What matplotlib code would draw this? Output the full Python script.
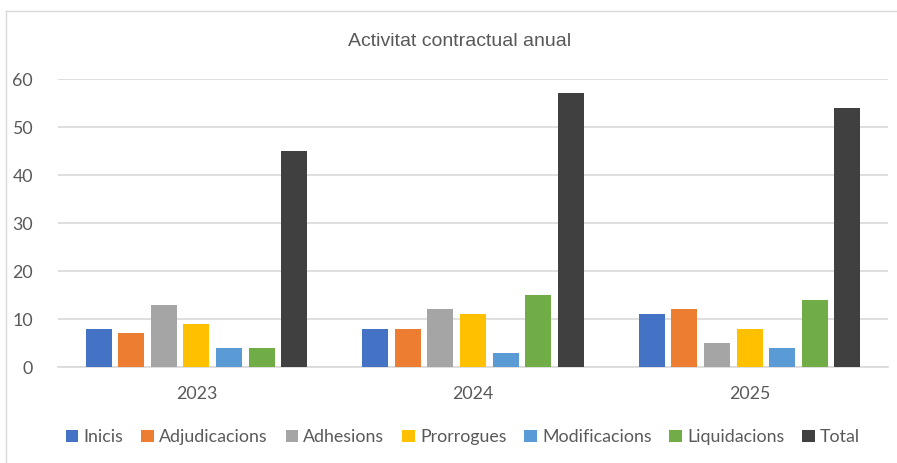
import matplotlib
matplotlib.use("Agg")
import matplotlib.pyplot as plt
from matplotlib.lines import Line2D
import numpy as np

years = ["2023", "2024", "2025"]
series = ["Inicis", "Adjudicacions", "Adhesions", "Prorrogues", "Modificacions", "Liquidacions", "Total"]
inicis = [8, 8, 11]
adjudicacions = [7, 8, 12]
adhesions = [13, 12, 5]
prorrogues = [9, 11, 8]
modificacions = [4, 3, 4]
liquidacions = [4, 15, 14]
total = [45, 57, 54]
values = [inicis, adjudicacions, adhesions, prorrogues, modificacions, liquidacions, total]
colors = ["#4472C4", "#ED7D31", "#A5A5A5", "#FFC000", "#5B9BD5", "#70AD47", "#404040"]
yticks = [0, 10, 20, 30, 40, 50, 60]

W, H = 897, 463
fig = plt.figure(figsize=(W / 100, H / 100), dpi=100)
fig.patch.set_facecolor("white")

ax = fig.add_axes([58 / W, (H - 367) / H, (888 - 58) / W, (367 - 79) / H])
x = np.arange(len(years))
step = 0.1178
width = 0.094
handles = []
for i, (name, vals, c) in enumerate(zip(series, values, colors)):
    b = ax.bar(x + (i - 3) * step, vals, width=width, color=c, label=name, zorder=3)
    handles.append(b)

ax.set_xlim(-0.5, 2.5)
ax.set_ylim(0, 60)
ax.set_yticks(yticks)
ax.set_xticks(x)
ax.set_xticklabels(years)
ax.yaxis.grid(True, color="#D9D9D9", linewidth=1.2, zorder=0)
ax.set_axisbelow(True)
for s in ["top", "right", "left"]:
    ax.spines[s].set_visible(False)
ax.spines["bottom"].set_color("#D9D9D9")
ax.spines["bottom"].set_linewidth(1.2)
ax.tick_params(axis="both", length=0, labelcolor="#595959", labelsize=12.8)
ax.tick_params(axis="y", pad=18)
ax.tick_params(axis="x", pad=14)
for lab in ax.get_xticklabels() + ax.get_yticklabels():
    lab.set_fontfamily("Lato")

fig.text(460 / W, 1 - 41 / H, "Activitat contractual anual", ha="center", va="center",
         fontsize=14, color="#595959", fontfamily="Liberation Sans")

leg = fig.legend(handles=handles, labels=series, loc="center", bbox_to_anchor=(463 / W, 1 - 437 / H),
                 ncol=7, frameon=False, handlelength=0.7, handleheight=0.7, handletextpad=0.3,
                 columnspacing=1.0, prop={"family": "Lato", "size": 12.8})
for t in leg.get_texts():
    t.set_color("#595959")

# chart border (top and left visible)
fig.add_artist(Line2D([6 / W, 6 / W], [0, 1 - 11 / H], transform=fig.transFigure, color="#D9D9D9", lw=1.0))
fig.add_artist(Line2D([6 / W, 1], [1 - 11 / H, 1 - 11 / H], transform=fig.transFigure, color="#D9D9D9", lw=1.0))

fig.savefig("out.png", dpi=100)
